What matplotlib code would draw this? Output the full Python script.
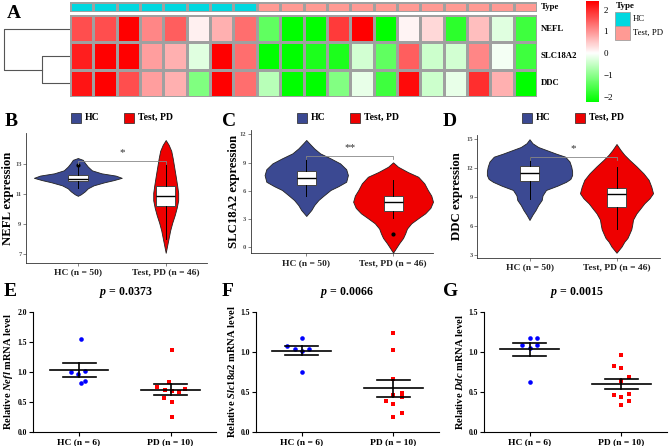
import numpy as np
import matplotlib
matplotlib.use('Agg')
import matplotlib.pyplot as plt
from matplotlib.colors import LinearSegmentedColormap, ListedColormap, TwoSlopeNorm
from matplotlib.patches import Rectangle

W, H = 669, 446

# ---- panel A: heatmap (z-scores) ----
genes = ['NEFL', 'SLC18A2', 'DDC']
sample_type = ['HC'] * 8 + ['Test, PD'] * 12
nefl_z = [1.65, 1.65, 2.4, 1.13, 1.5, 0.14, 0.74, 1.35, -1.4, -2.25,
          -2.25, 1.85, 2.4, -2.25, 0.1, 0.37, -1.85, 0.6, -0.28, -1.7]
slc18a2_z = [2.1, 2.4, 2.4, 0.9, 0.74, -0.28, 2.4, 1.35, -2.25, -2.25,
             -2.0, -2.0, -0.4, -1.4, 1.5, -0.45, -0.4, 1.13, -0.1, -1.7]
ddc_z = [2.2, 2.4, 1.65, 0.9, 0.74, -1.12, 2.4, 1.35, -0.63, -2.25,
         -2.25, -1.1, -0.2, -1.7, 2.3, -0.45, -0.2, 1.95, 0.74, -2.25]
dendro_heights = [3.0, 7.0]   # SLC18A2+DDC, then with NEFL

# ---- panels B-D: violin outlines (y, half width) and box stats ----
nefl_hc_y = [13.42, 13.3, 13.1, 12.85, 12.6, 12.4, 12.25, 12.1, 11.95, 11.8, 11.6, 11.4, 11.2, 11.0, 10.9]
nefl_hc_w = [0, .057, .08, .114, .16, .27, .43, .5, .41, .3, .18, .114, .08, .034, 0]
nefl_pd_y = [14.62, 14.3, 13.9, 13.4, 12.8, 12.2, 11.6, 11.1, 10.6, 10.1, 9.6, 9.1, 8.6, 8.1, 7.6, 7.1]
nefl_pd_w = [0, .034, .063, .08, .097, .114, .13, .142, .142, .125, .102, .074, .051, .034, .017, 0]
slc_hc_y = [11.4, 11.05, 10.5, 9.98, 9.45, 8.92, 8.3, 7.68, 6.97, 6.5, 6.1, 5.5, 5.03, 4.5, 3.97, 3.34]
slc_hc_w = [0, .035, .092, .16, .28, .39, .46, .48, .46, .37, .28, .2, .14, .092, .058, 0]
slc_pd_y = [9.03, 8.56, 8.0, 7.5, 6.8, 6.1, 5.5, 4.85, 4.2, 3.62, 3.1, 2.56, 2.0, 1.5, 1.0, 0.44, -0.55]
slc_pd_w = [0, .058, .17, .29, .36, .4, .44, .46, .43, .37, .29, .21, .16, .14, .115, .07, 0]
ddc_hc_y = [15.0, 14.59, 14.2, 13.9, 13.5, 13.2, 12.7, 12.17, 11.7, 11.3, 10.9, 10.6, 10.2, 9.76, 9.2, 8.72, 8.2, 7.69, 7.2, 6.66]
ddc_hc_w = [0, .034, .1, .19, .31, .41, .46, .48, .49, .49, .47, .42, .32, .19, .15, .14, .1, .07, .034, 0]
ddc_pd_y = [14.51, 13.9, 13.4, 12.86, 12.2, 11.48, 10.8, 10.1, 9.42, 8.9, 8.38, 7.8, 7.35, 6.7, 6.14, 5.7, 5.28, 4.8, 4.41, 3.9, 3.27]
ddc_pd_w = [0, .046, .09, .15, .23, .31, .37, .4, .42, .38, .32, .27, .23, .19, .18, .17, .15, .126, .09, .057, 0]

# q1, median, q3, whisker low, whisker high, outliers
nefl_box = [(11.92, 12.05, 12.27, 11.4, 12.8, [12.95]), (10.24, 10.89, 11.55, 8.0, 13.07, [])]
slc_box = [(6.59, 7.37, 8.14, 5.46, 9.45, []), (3.9, 4.85, 5.46, 3.1, 7.15, [1.43])]
ddc_box = [(10.72, 11.55, 12.24, 8.8, 13.2, []), (8.03, 9.34, 9.93, 5.7, 12.17, [])]
violin_xlabels = ['HC (n = 50)', 'Test, PD (n = 46)']

# ---- panels E-G: qPCR relative mRNA levels ----
nefl_q_hc = [1.55, 1.00, 0.96, 1.01, 0.81, 0.84]
nefl_q_hc_dx = [0.02, -0.09, -0.01, 0.07, 0.02, 0.07]
nefl_q_pd = [1.37, 0.83, 0.74, 0.69, 0.68, 0.66, 0.72, 0.57, 0.50, 0.24]
nefl_q_pd_dx = [0.02, -0.02, -0.145, -0.065, 0.02, 0.09, 0.16, -0.073, 0.02, 0.02]
slc_q_hc = [1.175, 1.07, 1.04, 1.01, 1.04, 0.75]
slc_q_hc_dx = [0, -0.158, -0.074, 0, 0.081, 0]
slc_q_pd = [1.24, 1.02, 0.66, 0.46, 0.48, 0.43, 0.38, 0.35, 0.24, 0.18]
slc_q_pd_dx = [0, 0, 0, 0, 0.092, 0.092, -0.081, 0, 0.092, 0]
ddc_q_hc = [1.083, 1.167, 1.167, 1.083, 1.05, 0.625]
ddc_q_hc_dx = [-0.08, 0, 0.084, 0.084, 0, 0]
ddc_q_pd = [0.958, 0.825, 0.80, 0.68, 0.633, 0.47, 0.458, 0.43, 0.383, 0.333]
ddc_q_pd_dx = [0, -0.08, 0, 0.08, 0, 0.08, -0.08, 0, 0.08, 0]
qpcr_xlabels = ['HC (n = 6)', 'PD (n = 10)']
p_values = ['0.0373', '0.0066', '0.0015']

BLUE = '#3B4992'
RED = '#EE0000'
CYAN = '#00D8E0'
PINK = '#FF9A94'

plt.rcParams['font.family'] = 'Liberation Serif'
plt.rcParams['mathtext.fontset'] = 'custom'
plt.rcParams['mathtext.it'] = 'Liberation Serif:italic:bold'
plt.rcParams['mathtext.rm'] = 'Liberation Serif:bold'

fig = plt.figure(figsize=(W / 100, H / 100), dpi=100)


def px_axes(x0, y0, x1, y1):
    return fig.add_axes([x0 / W, 1 - y1 / H, (x1 - x0) / W, (y1 - y0) / H])


def px_text(x, y, s, **kw):
    kw.setdefault('va', 'center')
    return fig.text(x / W, 1 - y / H, s, **kw)


def px_rect(x0, y0, x1, y1, fc, ec='none', lw=0.6):
    fig.add_artist(Rectangle((x0 / W, 1 - y1 / H), (x1 - x0) / W, (y1 - y0) / H,
                             transform=fig.transFigure, facecolor=fc,
                             edgecolor=ec, linewidth=lw))


# ---------------- A ----------------
cmap = LinearSegmentedColormap.from_list('gwr', ['#00FF00', '#FFFFFF', '#FF0000'])
norm = TwoSlopeNorm(vcenter=0, vmin=-2.25, vmax=2.4)
hm = np.array([nefl_z, slc18a2_z, ddc_z])

ax = px_axes(70, 15.3, 537, 96.7)
ax.pcolormesh(hm, cmap=cmap, norm=norm, edgecolors='#A0A0A0', linewidth=0.8)
ax.set_xlim(0, hm.shape[1])
ax.set_ylim(hm.shape[0], 0)
ax.axis('off')

tax = px_axes(70, 1.7, 537, 11.7)
tcodes = np.array([[0 if t == 'HC' else 1 for t in sample_type]])
tax.pcolormesh(tcodes, cmap=ListedColormap([CYAN, PINK]), vmin=0, vmax=1,
               edgecolors='#A0A0A0', linewidth=0.8)
tax.set_xlim(0, len(sample_type))
tax.axis('off')

dax = px_axes(0, 15.3, 70, 96.7)
h1, h2 = dendro_heights
dax.plot([0, h1, h1, 0], [1.5, 1.5, 2.5, 2.5], color='#555555', lw=0.8)
dax.plot([0, h2, h2, h1], [0.5, 0.5, 2.0, 2.0], color='#555555', lw=0.8)
dax.set_xlim(h2 * 70 / 66, 0)
dax.set_ylim(3, 0)
dax.axis('off')

for lab, y in zip(['Type'] + genes, [6.7, 29, 56, 83]):
    px_text(541, y, lab, fontsize=6.3, fontweight='bold')

cax = px_axes(585.7, 1, 598, 102)
grad = np.linspace(2.4, -2.25, 256)[:, None]
cax.imshow(grad, aspect='auto', cmap=cmap, norm=norm, extent=[0, 1, -2.25, 2.4])
cax.set_ylim(-2.25, 2.4)
cax.set_xticks([])
cax.yaxis.tick_right()
cax.set_yticks([2, 1, 0, -1, -2])
cax.set_yticklabels(['2', '1', '0', '\u22121', '\u22122'])
cax.tick_params(axis='y', length=0, labelsize=6.5, pad=4)
for s in cax.spines.values():
    s.set_visible(False)

px_text(616, 5.5, 'Type', fontsize=6.5, fontweight='bold')
px_rect(615, 12, 630, 26, CYAN, ec='#A0A0A0')
px_rect(615, 26, 630, 40, PINK, ec='#A0A0A0')
px_text(633, 19, 'HC', fontsize=6.3)
px_text(633, 33, 'Test, PD', fontsize=6.3)
px_text(7, 14, 'A', fontsize=14, fontweight='bold')

# ---------------- B-D ----------------
violin_panels = [
    dict(box=(26, 133, 207, 263), xlim=(0.41, 2.47), ylim=(6.42, 15.09), yticks=[7, 9, 11, 13],
         prof=[(nefl_hc_y, nefl_hc_w), (nefl_pd_y, nefl_pd_w)], stats=nefl_box,
         ylabel='NEFL expression', ylx=8.5, br=13.22, star='*', letter='B', lx=5, leg=71),
    dict(box=(250.7, 130, 433, 253.3), xlim=(0.36, 2.46), ylim=(-0.62, 12.46), yticks=[0, 3, 6, 9, 12],
         prof=[(slc_hc_y, slc_hc_w), (slc_pd_y, slc_pd_w)], stats=slc_box,
         ylabel='SLC18A2 expression', ylx=234, br=9.73, star='**', letter='C', lx=222, leg=297),
    dict(box=(477.3, 135, 660, 257.7), xlim=(0.4, 2.5), ylim=(2.76, 15.44), yticks=[3, 6, 9, 12, 15],
         prof=[(ddc_hc_y, ddc_hc_w), (ddc_pd_y, ddc_pd_w)], stats=ddc_box,
         ylabel='DDC expression', ylx=457, br=13.2, star='*', letter='D', lx=443, leg=522),
]

for p in violin_panels:
    ax = px_axes(*p['box'])
    for pos, (ys, ws), col in zip([1, 2], p['prof'], [BLUE, RED]):
        ys = np.asarray(ys)
        ws = np.asarray(ws)
        ax.fill_betweenx(ys, pos - ws, pos + ws, facecolor=col,
                         edgecolor='#222222', linewidth=0.6, zorder=1)
    bstats = [dict(q1=q1, med=md, q3=q3, whislo=lo, whishi=hi, fliers=fl)
              for q1, md, q3, lo, hi, fl in p['stats']]
    ax.bxp(bstats, positions=[1, 2], widths=0.22, patch_artist=True,
           showcaps=False, manage_ticks=False,
           boxprops=dict(facecolor='white', edgecolor='#444444', linewidth=0.7),
           medianprops=dict(color='black', linewidth=1.0),
           whiskerprops=dict(color='black', linewidth=0.7),
           flierprops=dict(marker='o', markersize=2, markerfacecolor='black',
                           markeredgecolor='black'), zorder=2)
    yr = p['ylim'][1] - p['ylim'][0]
    d = yr * 0.025
    ax.plot([1, 1, 2, 2], [p['br'] - d, p['br'], p['br'], p['br'] - d],
            color='#888888', lw=0.6, zorder=3)
    ax.text(1.5, p['br'] + yr * 0.03, p['star'], ha='center', va='bottom',
            fontsize=8, color='#333333')
    ax.set_xlim(*p['xlim'])
    ax.set_ylim(*p['ylim'])
    ax.set_xticks([1, 2])
    ax.set_xticklabels(violin_xlabels, fontsize=6.8, fontweight='bold', color='#222222')
    ax.set_yticks(p['yticks'])
    ax.tick_params(axis='y', labelsize=4.8, colors='#555555', length=2, width=0.5, pad=1.2)
    ax.tick_params(axis='x', length=2, width=0.5, colors='#555555', pad=2)
    for lab in ax.get_xticklabels():
        lab.set_color('#222222')
    for lab in ax.get_yticklabels():
        lab.set_fontweight('bold')
    ax.spines['top'].set_visible(False)
    ax.spines['right'].set_visible(False)
    for s in ('left', 'bottom'):
        ax.spines[s].set_linewidth(0.6)
        ax.spines[s].set_color('#333333')
    y0, y1 = p['box'][1], p['box'][3]
    px_text(p['ylx'], (y0 + y1) / 2, p['ylabel'], fontsize=9.2, fontweight='bold',
            rotation=90, ha='center')
    px_text(p['lx'], 121, p['letter'], fontsize=14, fontweight='bold')
    lx = p['leg']
    px_rect(lx, 113, lx + 10, 122.5, BLUE, ec='#222222', lw=0.5)
    px_text(lx + 14, 117.5, 'HC', fontsize=7, fontweight='bold')
    px_rect(lx + 53, 113, lx + 63, 122.5, RED, ec='#222222', lw=0.5)
    px_text(lx + 67, 117.5, 'Test, PD', fontsize=7, fontweight='bold')

# ---------------- E-G ----------------
qpcr_panels = [
    dict(box=(33.3, 311.7, 216.3, 431.7), ylim=(0, 2.0), yticks=[0, 0.5, 1.0, 1.5, 2.0],
         hc=(nefl_q_hc, nefl_q_hc_dx), pd=(nefl_q_pd, nefl_q_pd_dx),
         gene='Nefl', letter='E', lx=4, px=126),
    dict(box=(256, 311.7, 439, 431.7), ylim=(0, 1.5), yticks=[0, 0.5, 1.0, 1.5],
         hc=(slc_q_hc, slc_q_hc_dx), pd=(slc_q_pd, slc_q_pd_dx),
         gene='Slc18a2', letter='F', lx=222, px=347),
    dict(box=(484, 311.7, 667, 431.7), ylim=(0, 1.5), yticks=[0, 0.5, 1.0, 1.5],
         hc=(ddc_q_hc, ddc_q_hc_dx), pd=(ddc_q_pd, ddc_q_pd_dx),
         gene='Ddc', letter='G', lx=443, px=577),
]

for p, pv in zip(qpcr_panels, p_values):
    ax = px_axes(*p['box'])
    for pos, (vals, dx), col, mk in zip([1, 2], [p['hc'], p['pd']],
                                        ['#0000FF', '#FF0000'], ['o', 's']):
        vals = np.asarray(vals)
        ax.plot(pos + np.asarray(dx), vals, linestyle='none', marker=mk,
                markersize=3.3, color=col, markeredgewidth=0, zorder=2)
        m = vals.mean()
        sem = vals.std(ddof=1) / np.sqrt(len(vals))
        ax.plot([pos - 0.32, pos + 0.32], [m, m], color='black', lw=1.2, zorder=3)
        ax.plot([pos - 0.18, pos + 0.18], [m + sem, m + sem], color='black', lw=1.2, zorder=3)
        ax.plot([pos - 0.18, pos + 0.18], [m - sem, m - sem], color='black', lw=1.2, zorder=3)
        ax.plot([pos, pos], [m - sem, m + sem], color='black', lw=1.2, zorder=3)
    ax.set_xlim(0.5, 2.5)
    ax.set_ylim(*p['ylim'])
    ax.set_yticks(p['yticks'])
    ax.set_yticklabels(['%.1f' % v for v in p['yticks']], fontsize=5.5, fontweight='bold')
    ax.set_xticks([1, 2])
    ax.set_xticklabels(qpcr_xlabels, fontsize=6.8, fontweight='bold')
    ax.tick_params(length=3, width=0.8, pad=1.5)
    ax.spines['top'].set_visible(False)
    ax.spines['right'].set_visible(False)
    for s in ('left', 'bottom'):
        ax.spines[s].set_linewidth(0.8)
    ax.set_ylabel('Relative $\\mathit{%s}$ mRNA level' % p['gene'],
                  fontsize=7.6, fontweight='bold', labelpad=2)
    px_text(p['lx'], 292, p['letter'], fontsize=14, fontweight='bold')
    px_text(p['px'], 293, '$p$ = ' + pv, fontsize=8.6, fontweight='bold', ha='center')

fig.savefig('out.png', dpi=100)
